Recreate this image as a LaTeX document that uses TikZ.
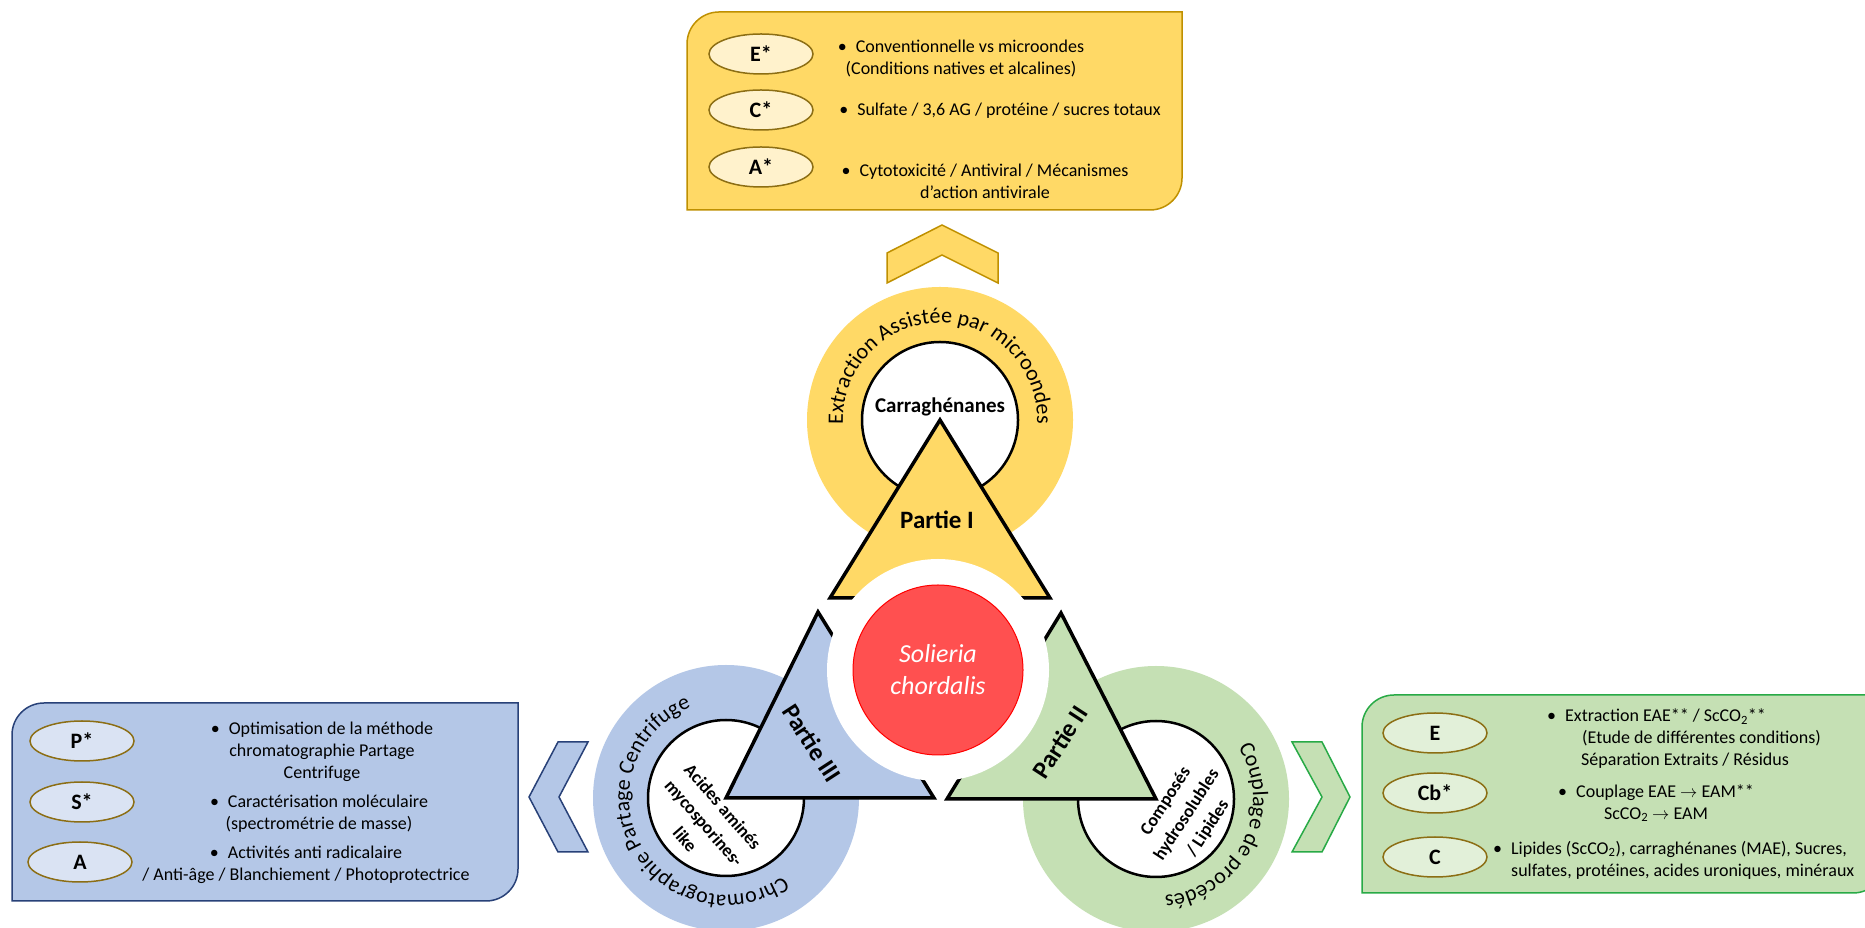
\documentclass[tikz,border=0pt]{standalone}
\usepackage{fontspec}
\setmainfont{Carlito}
\usepackage{tikz}
\usetikzlibrary{shapes.geometric,decorations.text}

\definecolor{jaune}{RGB}{255,217,102}
\definecolor{jauneclair}{RGB}{255,242,204}
\definecolor{bleu}{RGB}{180,199,231}
\definecolor{bleuclair}{RGB}{218,227,243}
\definecolor{vert}{RGB}{197,224,180}
\definecolor{vertclair}{RGB}{226,240,217}
\definecolor{rouge}{RGB}{255,80,80}
\definecolor{or}{RGB}{191,144,0}
\definecolor{bleufonce}{RGB}{40,65,120}
\definecolor{vertfonce}{RGB}{40,170,70}
\definecolor{bord}{RGB}{140,110,20}

\newcommand{\corps}{\fontsize{18}{22}\selectfont}
\newcommand{\anneau}{\fontsize{22}{22}\selectfont}

\begin{document}
\begin{tikzpicture}[x=1pt,y=1pt,
  etiq/.style={ellipse,draw=bord,line width=1.5pt,minimum width=104pt,minimum height=40pt,inner sep=0pt,font=\bfseries\fontsize{22}{22}\selectfont},
  texte/.style={align=center,inner sep=0pt,font=\corps},
  tri/.style={draw=black,line width=3.5pt},
  rond/.style={fill=white,draw=black,line width=2.5pt},
  titre/.style={font=\bfseries\fontsize{25}{25}\selectfont,inner sep=0pt},
  petit/.style={font=\bfseries\fontsize{18}{25}\selectfont,align=center,inner sep=0pt}]
\clip (0,0) rectangle (1865,928);
\fill[white] (0,0) rectangle (1865,928);

\coordinate (cI) at (940,508);
\coordinate (cII) at (1156,129);
\coordinate (cIII) at (726,130);
\coordinate (centre) at (938,258);

\draw[fill=jaune,draw=or,line width=1.5pt] (687,718) -- (687,884) arc[start angle=180,end angle=90,radius=32] -- (1182,916) -- (1182,750) arc[start angle=0,end angle=-90,radius=32] -- cycle;
\draw[fill=bleu,draw=bleufonce,line width=1.5pt] (12,27) -- (12,193) arc[start angle=180,end angle=90,radius=32] -- (518,225) -- (518,59) arc[start angle=0,end angle=-90,radius=32] -- cycle;
\draw[fill=vert,draw=vertfonce,line width=1.5pt] (1362,35) -- (1362,201) arc[start angle=180,end angle=90,radius=32] -- (1885,233) -- (1885,67) arc[start angle=0,end angle=-90,radius=32] -- cycle;

\draw[fill=jaune,draw=or,line width=1.5pt] (887,645) -- (887,675) -- (942,703) -- (998,675) -- (998,645) -- (942,673) -- cycle;
\draw[fill=bleu,draw=bleufonce,line width=1.5pt] (558,186) -- (588,186) -- (559,131) -- (588,76) -- (558,76) -- (529,131) -- cycle;
\draw[fill=vert,draw=vertfonce,line width=1.5pt] (1292,186) -- (1322,186) -- (1350,131) -- (1322,76) -- (1292,76) -- (1322,131) -- cycle;

\fill[jaune] (cI) circle (133);
\fill[bleu] (cIII) circle (133);
\fill[vert] (cII) circle (133);

\path[decorate,decoration={text along path,text align=center,text={|\anneau|Extraction Assistée par microondes}}] ([shift={(220:97)}]cI) arc[start angle=220,end angle=-40,radius=97];
\path[decorate,decoration={text along path,text align=center,text={|\anneau|Chromatographie Partage Centrifuge}}] ([shift={(-21.5:97)}]cIII) arc[start angle=-21.5,end angle=-281.5,radius=97];
\path[decorate,decoration={text along path,text align=center,text={|\anneau|Couplage de procédés}}] ([shift={(103.5:97)}]cII) arc[start angle=103.5,end angle=-156.5,radius=97];

\draw[rond] (cI) circle (78);
\draw[rond] (cIII) circle (78);
\draw[rond] (cII) circle (78);

\node[font=\bfseries\fontsize{21}{21}\selectfont,inner sep=0pt] (carra) at (940,521) {Carraghénanes};

\draw[tri,fill=jaune] (cI) -- (830,330) -- (1050,330) -- cycle;
\draw[tri,fill=bleu] (cIII) -- (818,316) -- (934,130) -- cycle;
\draw[tri,fill=vert] (cII) -- (1061,315) -- (947,129) -- cycle;

\fill[white] (centre) circle (111);
\draw[fill=rouge,draw=red,line width=1pt] (centre) circle (85);

\node[titre] (p1) at (937,408) {Partie I};
\node[titre,rotate=-57] (p3) at (812,185) {Partie III};
\node[titre,rotate=57] (p2) at (1060,186) {Partie II};
\node[petit,rotate=-49] (amm) at (704,105) {Acides aminés\\mycosporines-\\like};
\node[petit,rotate=57] (comp) at (1187,113) {Composés\\hydrosolubles\\/ Lipides};
\node[font=\itshape\fontsize{26}{32}\selectfont,text=white,align=center,inner sep=0pt] (algue) at (centre) {Solieria\\chordalis};

\node[etiq,fill=jauneclair] (e1) at (761,874) {E*};
\node[etiq,fill=jauneclair] (c1) at (761,818) {C*};
\node[etiq,fill=jauneclair] (a1) at (761,761) {A*};
\node[texte] (t1) at (961,869) {•\hspace{9pt}Conventionnelle vs microondes\\(Conditions natives et alcalines)};
\node[texte] (t2) at (1000,817) {•\hspace{9pt}Sulfate / 3,6 AG / protéine / sucres totaux};
\node[texte] (t3) at (985,747) {•\hspace{9pt}Cytotoxicité / Antiviral / Mécanismes\\d’action antivirale};

\node[etiq,fill=bleuclair] (p) at (82,187) {P*};
\node[etiq,fill=bleuclair] (s) at (82,126) {S*};
\node[etiq,fill=bleuclair] (a) at (80,66) {A};
\node[texte] (t4) at (322,176) {•\hspace{9pt}Optimisation de la méthode\\chromatographie Partage\\Centrifuge};
\node[texte] (t5) at (319,114.5) {•\hspace{9pt}Caractérisation moléculaire\\(spectrométrie de masse)};
\node[texte] (t6) at (306,63) {•\hspace{9pt}Activités anti radicalaire\\/ Anti-âge / Blanchiement / Photoprotectrice};

\node[etiq,fill=vertclair] (e2) at (1435,195) {E};
\node[etiq,fill=vertclair] (cb) at (1435,135) {Cb*};
\node[etiq,fill=vertclair] (c2) at (1435,71) {C};
\node[texte,align=left,anchor=west] (t7) at (1547,189.5) {•\hspace{9pt}Extraction EAE** / ScCO\textsubscript{2}**\\\hspace*{35pt}(Etude de différentes conditions)\\\hspace*{34pt}Séparation Extraits / Résidus};
\node[texte] (t8) at (1656,125) {•\hspace{9pt}Couplage EAE $\rightarrow$ EAM**\\ScCO\textsubscript{2} $\rightarrow$ EAM};
\node[texte,align=left,anchor=west] (t9) at (1493,68) {•\hspace{9pt}Lipides (ScCO\textsubscript{2}), carraghénanes (MAE), Sucres,\\\hspace*{18pt}sulfates, protéines, acides uroniques, minéraux};
\end{tikzpicture}
\end{document}
